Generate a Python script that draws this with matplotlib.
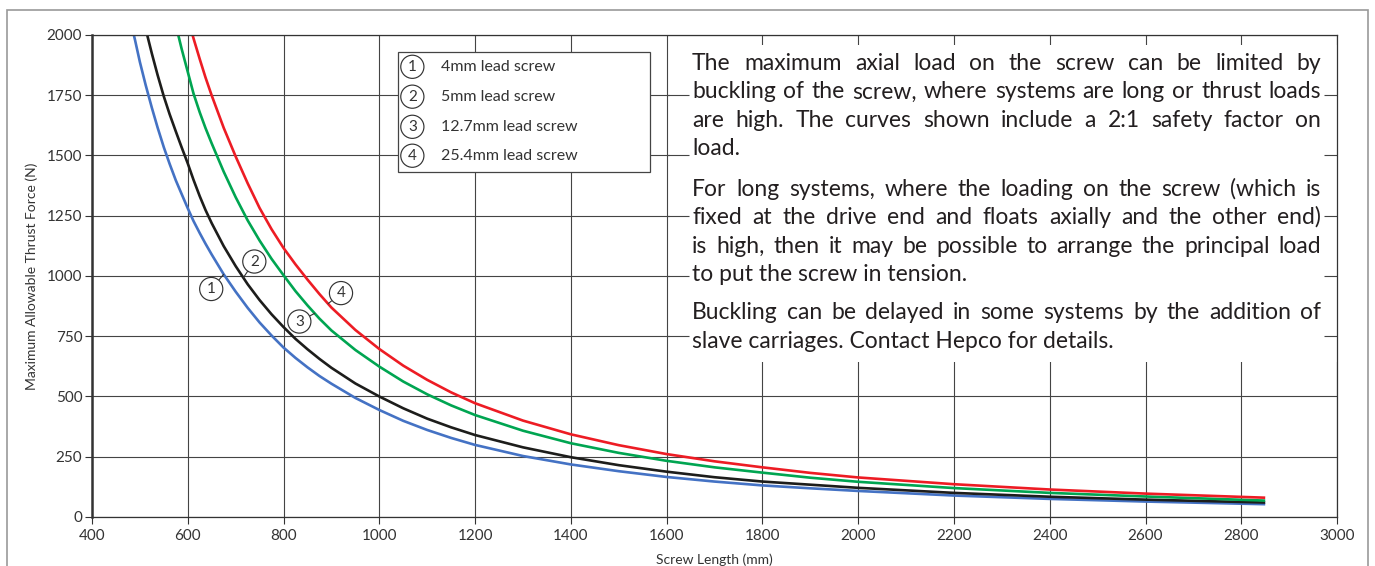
import numpy as np
import matplotlib
matplotlib.use('Agg')
import matplotlib.pyplot as plt
from matplotlib.patches import Rectangle

# Данные (длина винта, мм -> допустимое усилие, Н)
length = [475, 490, 500, 512, 525, 537, 550, 562, 575, 587, 600, 612, 625, 637, 650,
          675, 700, 725, 750, 775, 800, 825, 850, 875, 900, 950, 1000, 1050, 1100,
          1150, 1200, 1300, 1400, 1500, 1600, 1700, 1800, 1900, 2000, 2200, 2400,
          2600, 2850]
lead_4mm = [2105, 1978, 1888, 1793, 1698, 1616, 1534, 1466, 1397, 1341, 1281, 1228, 1178,
            1134, 1089, 1007, 935, 868, 807, 753, 703, 660, 621, 585, 553, 494, 444, 399,
            361, 328, 299, 253, 218, 190, 166, 147, 131, 119, 108, 89, 75, 64, 53]
lead_5mm = [2371, 2220, 2128, 2026, 1923, 1834, 1745, 1672, 1600, 1535, 1467, 1399, 1331,
            1274, 1219, 1124, 1041, 966, 900, 841, 788, 739, 696, 656, 619, 554, 500, 451,
            408, 372, 340, 289, 248, 215, 188, 165, 147, 134, 121, 100, 84, 72, 60]
lead_12_7mm = [3058, 2865, 2740, 2602, 2467, 2351, 2238, 2140, 2042, 1944, 1847, 1757, 1679,
               1614, 1550, 1433, 1327, 1231, 1147, 1071, 1003, 937, 878, 823, 774, 693, 624,
               562, 509, 463, 423, 358, 306, 266, 233, 206, 184, 163, 146, 120, 100, 85, 68]
lead_25_4mm = [3368, 3157, 3024, 2876, 2728, 2601, 2476, 2368, 2259, 2165, 2069, 1986, 1900,
               1824, 1749, 1615, 1496, 1385, 1282, 1194, 1116, 1048, 985, 925, 869, 776, 697,
               628, 569, 517, 472, 400, 343, 298, 261, 231, 206, 183, 164, 136, 114, 97, 80]

series_labels = ['4mm lead screw', '5mm lead screw', '12.7mm lead screw', '25.4mm lead screw']
colors = ['#4472c4', '#1d1d1b', '#00a551', '#ed1c24']

xticks = list(range(400, 3001, 200))
yticks = list(range(0, 2001, 250))

para_lines = [
    "The maximum axial load on the screw can be limited by",
    "buckling of the screw, where systems are long or thrust loads",
    "are high. The curves shown include a 2:1 safety factor on",
    "load.",
    "For long systems, where the loading on the screw (which is",
    "fixed at the drive end and floats axially and the other end)",
    "is high, then it may be possible to arrange the principal load",
    "to put the screw in tension.",
    "Buckling can be delayed in some systems by the addition of",
    "slave carriages. Contact Hepco for details.",
]
para_last = {3, 7, 9}
para_baseline = [1855, 1737, 1620, 1503, 1333, 1216, 1097, 980, 823, 703]

FONT = ['Lato', 'DejaVu Sans']
TXT_FS = 16.5
GRID = '#444444'
INK = '#231f20'

plt.rcParams['font.family'] = FONT

fig = plt.figure(figsize=(13.75, 5.66), dpi=100)
ax = fig.add_axes([0.0669, 0.0866, 0.9055, 0.8516])

all_series = [lead_4mm, lead_5mm, lead_12_7mm, lead_25_4mm]
for vals, c in zip(all_series, colors):
    ax.plot(length, vals, color=c, lw=1.9, zorder=2,
            solid_capstyle='butt', solid_joinstyle='round')

ax.set_xlim(400, 3000)
ax.set_ylim(0, 2000)
ax.set_xticks(xticks)
ax.set_yticks(yticks)
ax.grid(True, color=GRID, lw=0.8)
ax.set_axisbelow(True)
ax.tick_params(direction='out', length=5, width=0.8, color='#333333',
               labelsize=11, labelcolor='#333333', pad=2)
ax.tick_params(axis='x', pad=4)
for s in ax.spines.values():
    s.set_color('#333333')
    s.set_linewidth(0.9)
ax.spines['left'].set_linewidth(1.8)

ax.set_xlabel('Screw Length (mm)', fontsize=10, color='#333333', labelpad=7)
ax.set_ylabel('Maximum Allowable Thrust Force (N)', fontsize=10, color='#333333', labelpad=6)

# блок текста справа: белая подложка
box_l, box_b, box_t = 1606, 643, 1960
txt_l, txt_r = 1653, 2967
ax.add_patch(Rectangle((box_l, box_b), 3000 - box_l, box_t - box_b,
                       fc='white', ec='none', zorder=1))
for yv in yticks:
    if box_b < yv < box_t:
        ax.hlines(yv, 1600, txt_l - 6, color=GRID, lw=0.8, zorder=1.1)
        ax.hlines(yv, txt_r + 6, 3000, color=GRID, lw=0.8, zorder=1.1)

# легенда
ax.add_patch(Rectangle((1038, 1432), 527, 499, fc='white', ec='#444444', lw=0.9, zorder=3))
leg_y = [1868, 1744, 1619, 1499]
circ = dict(boxstyle='circle,pad=0.3', fc='white', ec='#333333', lw=0.85)
for i, (lab, yy) in enumerate(zip(series_labels, leg_y)):
    ax.text(1069, yy, str(i + 1), fontsize=11, ha='center', va='center',
            color='#333333', bbox=circ, zorder=4)
    ax.text(1128, yy, lab, fontsize=11.5, ha='left', va='center', color='#333333', zorder=4)

# номера у кривых
ann = [(675, 649, 946), (716, 739, 1060), (865, 833, 811), (893, 920, 929)]
for i, (vals, (xc, xt, yt)) in enumerate(zip(all_series, ann)):
    ax.annotate(str(i + 1), xy=(xc, np.interp(xc, length, vals)), xytext=(xt, yt),
                fontsize=11, ha='center', va='center', color='#333333', bbox=circ,
                arrowprops=dict(arrowstyle='-', color='#333333', lw=0.8,
                                shrinkA=0, shrinkB=0), zorder=4)

# текст по ширине
fig.canvas.draw()
renderer = fig.canvas.get_renderer()


def word_width(w):
    t = ax.text(0, 0, w, fontsize=TXT_FS)
    wd = t.get_window_extent(renderer).width
    t.remove()
    return wd


for k, (line, yb) in enumerate(zip(para_lines, para_baseline)):
    if k in para_last:
        ax.text(txt_l, yb, line, fontsize=TXT_FS, color=INK, ha='left', va='baseline', zorder=4)
        continue
    words = line.split()
    widths = [word_width(w) for w in words]
    x0 = ax.transData.transform((txt_l, yb))[0]
    x1 = ax.transData.transform((txt_r, yb))[0]
    gap = max((x1 - x0 - sum(widths)) / (len(words) - 1), 3.0)
    cur = x0
    for w, wd in zip(words, widths):
        xd = ax.transData.inverted().transform((cur, 0))[0]
        ax.text(xd, yb, w, fontsize=TXT_FS, color=INK, ha='left', va='baseline', zorder=4)
        cur += wd + gap

# рамка вокруг рисунка
fig.patches.append(Rectangle((7 / 1375, -0.05), 1361 / 1375, 1.05 - 10 / 566,
                             transform=fig.transFigure, fill=False,
                             ec='#999999', lw=1.2))

fig.savefig('out.png', dpi=100)
